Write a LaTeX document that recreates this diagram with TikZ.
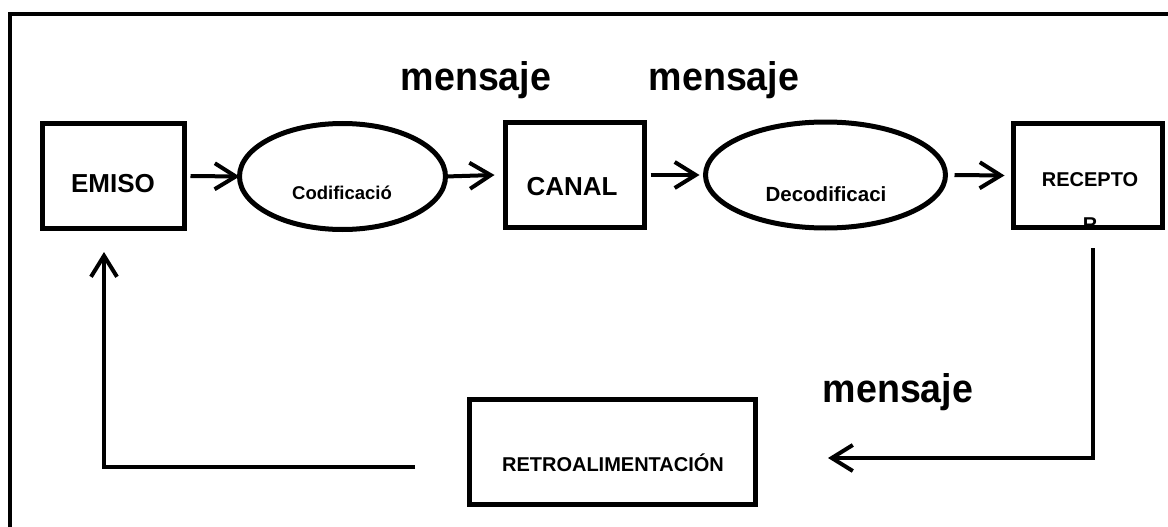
\documentclass[tikz,border=0pt]{standalone}
\usepackage{fontspec}
\setmainfont{Liberation Sans}
\usetikzlibrary{arrows.meta,shapes.geometric}
\begin{document}
\begin{tikzpicture}[x=1pt,y=-1pt,
  boxnode/.style={draw,line width=5pt,rectangle,inner sep=0pt,outer sep=0pt},
  ovalnode/.style={draw,line width=5pt,ellipse,inner sep=0pt,outer sep=0pt},
  lbl/.style={anchor=base,inner sep=0pt,font=\bfseries},
  tipstyle/.style={-{Straight Barb[length=21pt,width=26pt]}},
  conn/.style={line width=4pt,tipstyle}]
\useasboundingbox (0,0) rectangle (1168,527);
% outer frame (extends past right/bottom)
\draw[line width=4pt] (10,14) rectangle (1180,540);

% shapes
\node[boxnode,minimum width=142pt,minimum height=105pt] (emi) at (113.5,176) {};
\node[ovalnode,minimum width=206pt,minimum height=106pt] (cod) at (342.5,176.5) {};
\node[boxnode,minimum width=139pt,minimum height=105pt] (can) at (575,175) {};
\node[ovalnode,minimum width=240pt,minimum height=106pt] (dec) at (825.5,175) {};
\node[boxnode,minimum width=149pt,minimum height=104pt] (rec) at (1088,175.5) {};
\node[boxnode,minimum width=286pt,minimum height=105pt] (ret) at (612.5,452) {};

% texts
\node[lbl,font=\bfseries\fontsize{26}{30}\selectfont] (temi) at (113,192) {EMISO};
\node[lbl,font=\bfseries\fontsize{18.5}{22}\selectfont] (tcod) at (342,199) {Codificació};
\node[lbl,font=\bfseries\fontsize{26}{30}\selectfont] (tcan) at (572,195) {CANAL};
\node[lbl,font=\bfseries\fontsize{20.5}{24}\selectfont] (tdec) at (826,201) {Decodificaci};
\node[lbl,font=\bfseries\fontsize{20}{24}\selectfont] (trec) at (1090,186) {RECEPTO};
\begin{scope}
  \clip (1013.5,123.5) rectangle (1162.5,227.5);
  \node[lbl,font=\bfseries\fontsize{20}{24}\selectfont] (trec2) at (1090,231) {R};
\end{scope}
\node[lbl,font=\bfseries\fontsize{20}{24}\selectfont] (tret) at (613,471) {RETROALIMENTACIÓN};
\node[lbl,font=\bfseries\fontsize{40}{46}\selectfont] (m1) at (476,91) {\scalebox{0.94}[1]{mensaje}};
\node[lbl,font=\bfseries\fontsize{40}{46}\selectfont] (m2) at (724,91) {\scalebox{0.94}[1]{mensaje}};
\node[lbl,font=\bfseries\fontsize{40}{46}\selectfont] (m3) at (898,402) {\scalebox{0.94}[1]{mensaje}};

% connectors
\draw[conn] ([xshift=6pt]emi.east) -- (cod.west);
\draw[conn] (cod.east) -- ([xshift=-11pt]can.west);
\draw[conn] ([xshift=6pt]can.east) -- ([xshift=-6pt]dec.west);
\draw[conn] ([xshift=9pt]dec.east) -- ([xshift=-9pt]rec.west);
\coordinate (rdown) at (1093,248);
\coordinate (rcorner) at (1093,458);
\coordinate (rtip) at (828,458);
\draw[conn] (rdown) -- (rcorner) -- (rtip);
\coordinate (fstart) at (415,467);
\coordinate (fcorner) at (104,467);
\coordinate (ftip) at (104,252);
\draw[conn] (fstart) -- (fcorner) -- (ftip);
\end{tikzpicture}
\end{document}
